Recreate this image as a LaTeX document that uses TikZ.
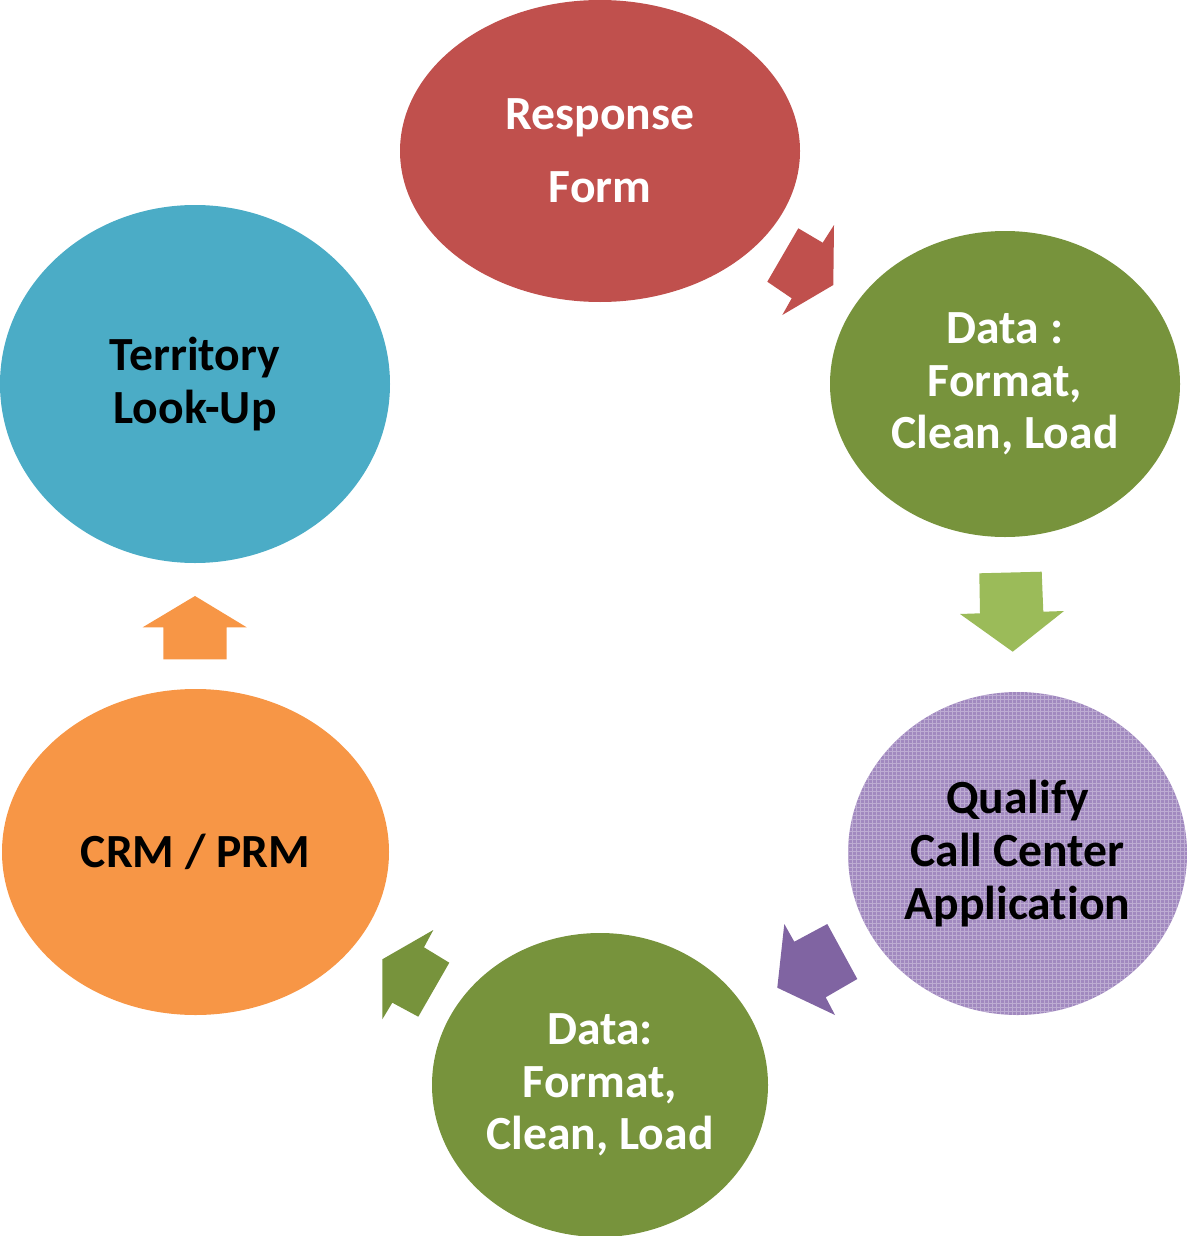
\documentclass[tikz,border=0pt]{standalone}
\usepackage{fontspec}
\setmainfont{Carlito}[Ligatures={NoCommon}]
\usetikzlibrary{shapes.geometric}
\definecolor{cred}{HTML}{C0504D}
\definecolor{cgreen}{HTML}{77933C}
\definecolor{clgreen}{HTML}{9BBB59}
\definecolor{cpurple}{HTML}{8064A2}
\definecolor{clpurple}{HTML}{A189BF}
\definecolor{corange}{HTML}{F79646}
\definecolor{cblue}{HTML}{4BACC6}
\begin{document}
\begin{tikzpicture}[x=0.5pt,y=-0.5pt,
  stage/.style={ellipse, inner sep=0pt, align=center,
    font=\bfseries\fontsize{23.8}{26.3}\selectfont},
  whitetext/.style={text=white},
  blacktext/.style={text=black},
  woven/.style={path picture={
    \draw[white, opacity=.3, line width=.5pt, step=2pt]
      (path picture bounding box.south west) grid (path picture bounding box.north east);}},
  blockarrow/.style={draw=none}]
\useasboundingbox (0,0) rectangle (1187,1236);

% cycle stages
\node[stage, whitetext, fill=cred, minimum width=200pt, minimum height=151pt]
  (resp) at (600,151) {Response\\[10.2pt]Form};
\node[stage, whitetext, fill=cgreen, minimum width=175pt, minimum height=153pt]
  (dataA) at (1005,384) {Data :\\Format,\\Clean, Load};
\node[stage, blacktext, fill=clpurple, woven, minimum width=169.5pt, minimum height=161.5pt]
  (qual) at (1017.5,853.5) {Qualify\\Call Center\\Application};
\node[stage, whitetext, fill=cgreen, minimum width=168pt, minimum height=152pt]
  (dataB) at (600,1085) {Data:\\Format,\\Clean, Load};
\node[stage, blacktext, fill=corange, minimum width=193.5pt, minimum height=163pt]
  (crm) at (195.5,852) {CRM / PRM};
\node[stage, blacktext, fill=cblue, minimum width=195pt, minimum height=179pt]
  (terr) at (195,384) {Territory\\Look-Up};

% block arrows between the stages
\fill[cred, blockarrow] (798.3,228.3) -- (822.7,242.7) -- (834,225) -- (833.3,285)
  -- (782.3,315) -- (791.7,298.3) -- (767.3,281.7) -- cycle;
\fill[clgreen, blockarrow] (979.3,573.3) -- (1041.7,571.7) -- (1043.3,611.7) -- (1064,611)
  -- (1012.7,651.7) -- (960,614) -- (980,613.3) -- cycle;
\fill[cpurple, blockarrow] (784.3,924) -- (794.3,941.7) -- (827.3,924) -- (857.3,979)
  -- (825.7,997.3) -- (835,1015) -- (777.3,987.7) -- cycle;
\fill[cgreen, blockarrow] (433.3,930) -- (424,947.3) -- (449.3,962.7) -- (418.3,1016.7)
  -- (392.3,1002.7) -- (382.3,1019.3) -- (382.3,959.3) -- cycle;
\fill[corange, blockarrow] (195,596) -- (246.7,627.3) -- (226.7,627.3) -- (226.7,659.3)
  -- (163.3,659.3) -- (163.3,627.3) -- (142.7,627.3) -- cycle;
\end{tikzpicture}
\end{document}
